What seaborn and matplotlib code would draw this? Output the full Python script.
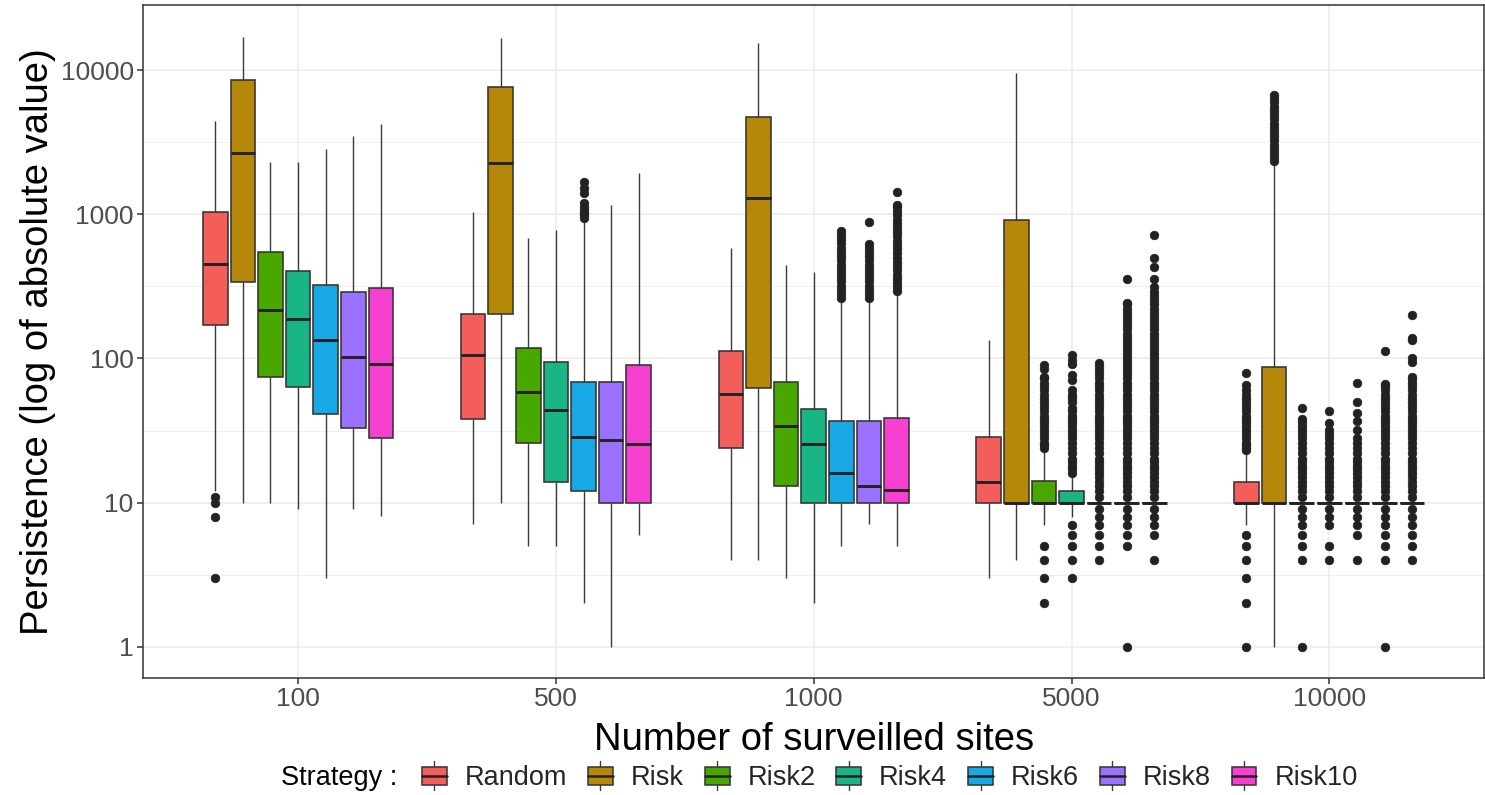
import numpy as np
import pandas as pd
import matplotlib
matplotlib.use("Agg")
import matplotlib.pyplot as plt
import seaborn as sns
from matplotlib.legend_handler import HandlerBase
from matplotlib.patches import Rectangle, Patch
from matplotlib.lines import Line2D
from matplotlib.ticker import NullFormatter

# ---------------- data ----------------
sites = ["100", "500", "1000", "5000", "10000"]
strategies = ["Random", "Risk", "Risk2", "Risk4", "Risk6", "Risk8", "Risk10"]
colors = ["#F35E5A", "#B5880A", "#48A800", "#1AB585", "#18A8E5", "#9A72FF", "#F540D0"]

# five-number summaries per strategy, one value per number of sites
whislo = {
    "Random": [12, 7.1, 4.0, 3.0, 7],
    "Risk":   [10, 10, 4, 4, 1],
    "Risk2":  [10, 5, 3, 7, 10],
    "Risk4":  [9.1, 5, 2, 8, 10],
    "Risk6":  [3, 2, 5, 10, 10],
    "Risk8":  [9.1, 1, 7.1, 10, 10],
    "Risk10": [8.1, 6, 5, 10, 10],
}
q1 = {
    "Random": [171, 37.8, 24, 10, 10],
    "Risk":   [338, 205, 62.7, 10, 10],
    "Risk2":  [74.8, 26, 13, 10, 10],
    "Risk4":  [63.7, 13.8, 10, 10, 10],
    "Risk6":  [41.2, 12, 10, 10, 10],
    "Risk8":  [32.8, 10, 10, 10, 10],
    "Risk10": [27.9, 10, 10, 10, 10],
}
median = {
    "Random": [451, 105, 56.4, 14, 10],
    "Risk":   [2655, 2275, 1305, 10, 10],
    "Risk2":  [217, 58.9, 34.2, 10, 10],
    "Risk4":  [188, 43.9, 25.4, 10, 10],
    "Risk6":  [134, 28.4, 16.1, 10, 10],
    "Risk8":  [103, 27.2, 13.1, 10, 10],
    "Risk10": [91, 25.4, 12.2, 10, 10],
}
q3 = {
    "Random": [1040, 205, 113, 28.7, 13.8],
    "Risk":   [8560, 7660, 4760, 919, 87.7],
    "Risk2":  [546, 118, 68.4, 14.1, 10],
    "Risk4":  [405, 94, 44.4, 12, 10],
    "Risk6":  [322, 68.4, 36.8, 10, 10],
    "Risk8":  [288, 68.4, 36.8, 10, 10],
    "Risk10": [308, 90, 38.4, 10, 10],
}
whishi = {
    "Random": [4470, 1040, 587, 135, 22],
    "Risk":   [17100, 16800, 15400, 9530, 2250],
    "Risk2":  [2300, 689, 445, 23, 10],
    "Risk4":  [2300, 776, 398, 15, 10],
    "Risk6":  [2830, 900, 250, 10, 10],
    "Risk8":  [3480, 1160, 250, 10, 10],
    "Risk10": [4260, 1930, 285, 10, 10],
}
# outliers per strategy, one list per number of sites
outliers = {
    "Random": [
        [3, 8, 10, 11], [], [], [],
        [1, 2, 3, 4, 5, 6, 23, 24, 25, 26, 28, 30, 32, 34, 36, 38, 40, 43, 46, 49, 52,
         56, 60, 65, 79],
    ],
    "Risk": [
        [], [], [], [],
        [2350, 2500, 2670, 2850, 3050, 3260, 3490, 3730, 3990, 4270, 4570, 4890, 5230,
         5600, 5990, 6400, 6740],
    ],
    "Risk2": [
        [], [], [],
        [2, 3, 4, 5, 24, 25, 26, 28, 30, 32, 34, 36, 38, 40, 43, 46, 49, 52, 56, 60, 64,
         68, 73, 75, 84, 90],
        [1, 4, 5, 6, 7, 8, 9, 11, 12, 13, 14, 15, 16, 17, 18, 19, 20, 22, 24, 26, 28, 30,
         32, 34, 36, 38, 45],
    ],
    "Risk4": [
        [], [], [],
        [3, 4, 5, 6, 7, 16, 17, 18, 19, 20, 22, 24, 26, 28, 30, 32, 34, 36, 38, 40, 43, 45,
         50, 53, 56, 60, 71, 77, 91, 97, 106],
        [4, 5, 7, 8, 9, 11, 12, 13, 14, 15, 16, 17, 18, 19, 20, 22, 24, 26, 28, 30, 32,
         35.5, 43],
    ],
    "Risk6": [
        [],
        [950, 990, 1030, 1080, 1130, 1195, 1400, 1530, 1670],
        [262, 280, 300, 320, 343, 367, 392, 420, 449, 480, 514, 550, 588, 629, 673, 720, 767],
        [4, 5, 6, 7, 8, 9, 11, 12, 13, 14, 15, 16, 17, 18, 19, 20, 22, 24, 26, 28, 30, 32,
         34, 36, 38, 40, 43, 46, 49, 52, 56, 60, 64, 68, 73, 78, 83, 89, 93],
        [4, 6, 7, 8, 9, 11, 12, 13, 14, 15, 16, 17, 18, 19, 20, 22, 24, 26, 28, 32, 37, 42,
         50, 68],
    ],
    "Risk8": [
        [], [],
        [262, 280, 300, 320, 343, 367, 392, 420, 449, 480, 514, 550, 588, 620, 881],
        [1, 5, 6, 7, 8, 9, 11, 12, 13, 14, 15, 16, 17, 18, 19, 20, 22, 24, 26, 28, 30, 32,
         34, 36, 38, 40, 43, 46, 49, 52, 56, 60, 64, 68, 73, 78, 83, 89, 95, 100, 107, 114,
         122, 130, 139, 149, 159, 170, 182, 195, 208, 222, 237, 241, 355],
        [1, 4, 5, 6, 7, 8, 9, 11, 12, 13, 14, 15, 16, 17, 18, 19, 20, 22, 24, 26, 28, 30,
         32, 34, 36, 38, 40, 43, 46, 49, 52, 56, 60, 64, 67, 113],
    ],
    "Risk10": [
        [], [],
        [292, 312, 334, 357, 382, 409, 438, 468, 501, 536, 574, 614, 657, 703, 752, 805,
         861, 921, 985, 1054, 1128, 1160, 1423],
        [4, 6, 7, 8, 9, 11, 12, 13, 14, 15, 16, 17, 18, 19, 20, 22, 24, 26, 28, 30, 32, 34,
         36, 38, 40, 43, 46, 49, 52, 56, 60, 64, 68, 73, 78, 83, 89, 95, 100, 107, 114, 122,
         130, 139, 149, 159, 170, 182, 195, 208, 222, 237, 253, 270, 289, 312, 355, 434,
         496, 716],
        [4, 5, 6, 7, 8, 9, 11, 12, 13, 14, 15, 16, 17, 18, 19, 20, 22, 24, 26, 28, 30, 32,
         34, 36, 38, 40, 43, 46, 49, 52, 56, 60, 64, 68, 72, 75, 95, 101, 134, 139, 200],
    ],
}

# ------------- long table whose box statistics equal the summaries -------------
rows = []
for s in strategies:
    for i, site in enumerate(sites):
        fl = outliers[s][i]
        m = len(fl) + 5
        vals = (list(fl) + [whislo[s][i], whishi[s][i]]
                + [q1[s][i]] * m + [median[s][i]] * m + [q3[s][i]] * m)
        rows += [(site, s, v) for v in vals]
df = pd.DataFrame(rows, columns=["sites", "strategy", "value"])

# ---------------- figure ----------------
sns.set_theme(style="white")
plt.rcParams["font.family"] = ["Liberation Sans", "DejaVu Sans"]

W, H = 1485, 795
fig = plt.figure(figsize=(W / 100, H / 100), dpi=100)
L, R, T, B = 143.4, 1484.0, 5.0, 677.7
ax = fig.add_axes([L / W, 1 - B / H, (R - L) / W, (B - T) / H])

sns.boxplot(
    data=df, x="sites", y="value", hue="strategy",
    order=sites, hue_order=strategies, palette=colors, saturation=1,
    width=0.75, gap=0.11, linewidth=1.15, linecolor="#333333",
    fliersize=6.2, log_scale=True, legend=False, ax=ax,
    flierprops=dict(marker="o", markersize=6.2, markerfacecolor="#222222",
                    markeredgecolor="#222222", markeredgewidth=0.5),
    medianprops=dict(color="#222222", linewidth=2.1),
    whiskerprops=dict(color="#3A3A3A", linewidth=1.0),
    capprops=dict(linewidth=0),
)

ax.set_xlim(-0.6, 4.6)
ax.set_ylim(10 ** -0.215, 10 ** 4.453)
ax.set_yticks([1, 10, 100, 1000, 10000])
ax.set_yticklabels(["1", "10", "100", "1000", "10000"])
ax.set_yticks([10 ** 0.5, 10 ** 1.5, 10 ** 2.5, 10 ** 3.5], minor=True)
ax.yaxis.set_minor_formatter(NullFormatter())
ax.set_xlabel("")
ax.set_ylabel("")

ax.set_axisbelow(True)
ax.grid(True, which="major", color="#EBEBEB", linewidth=1.1)
ax.grid(True, which="minor", axis="y", color="#EBEBEB", linewidth=0.55)
for sp in ax.spines.values():
    sp.set_visible(True)
    sp.set_color("#333333")
    sp.set_linewidth(1.1)
ax.tick_params(axis="both", which="major", bottom=True, left=True, length=4,
               width=1.1, color="#333333", labelsize=19, labelcolor="#4D4D4D",
               pad=3, direction="out")
ax.tick_params(axis="y", which="minor", left=False, length=0)

fig.text((L + R) / 2 / W, 1 - 740 / H, "Number of surveilled sites",
         ha="center", va="center", fontsize=27.5, color="black")
fig.text(38 / W, 1 - (T + B) / 2 / H, "Persistence (log of absolute value)",
         ha="center", va="center", rotation=90, fontsize=27.5, color="black")


class BoxKey(HandlerBase):
    def create_artists(self, legend, orig_handle, xdescent, ydescent, width,
                       height, fontsize, trans):
        x0, y0 = -xdescent, -ydescent
        fc = orig_handle.get_facecolor()
        bh = height * 0.95
        by = y0 + (height - bh) / 2
        xc = x0 + width / 2
        ext = height * 0.28
        wl = Line2D([xc, xc], [by - ext, by + bh + ext], color="#3A3A3A",
                    lw=1.0, transform=trans)
        box = Rectangle((x0, by), width, bh, facecolor=fc, edgecolor="#333333",
                        lw=1.1, transform=trans)
        med = Line2D([x0, x0 + width], [by + bh / 2] * 2, color="#222222",
                     lw=1.8, transform=trans)
        return [wl, box, med]


handles = [Patch(facecolor=c) for c in colors]
leg_y = 1 - 778 / H
fig.text(281 / W, leg_y, "Strategy :", ha="left", va="center", fontsize=19.5,
         color="black")
fig.legend(handles, strategies, handler_map={Patch: BoxKey()},
           loc="center left", bbox_to_anchor=(422 / W, leg_y), ncol=7,
           frameon=False, fontsize=19.5, handlelength=0.92, handleheight=0.7,
           handletextpad=0.66, columnspacing=0.77, borderpad=0,
           borderaxespad=0)

fig.savefig("out.png", dpi=100)
